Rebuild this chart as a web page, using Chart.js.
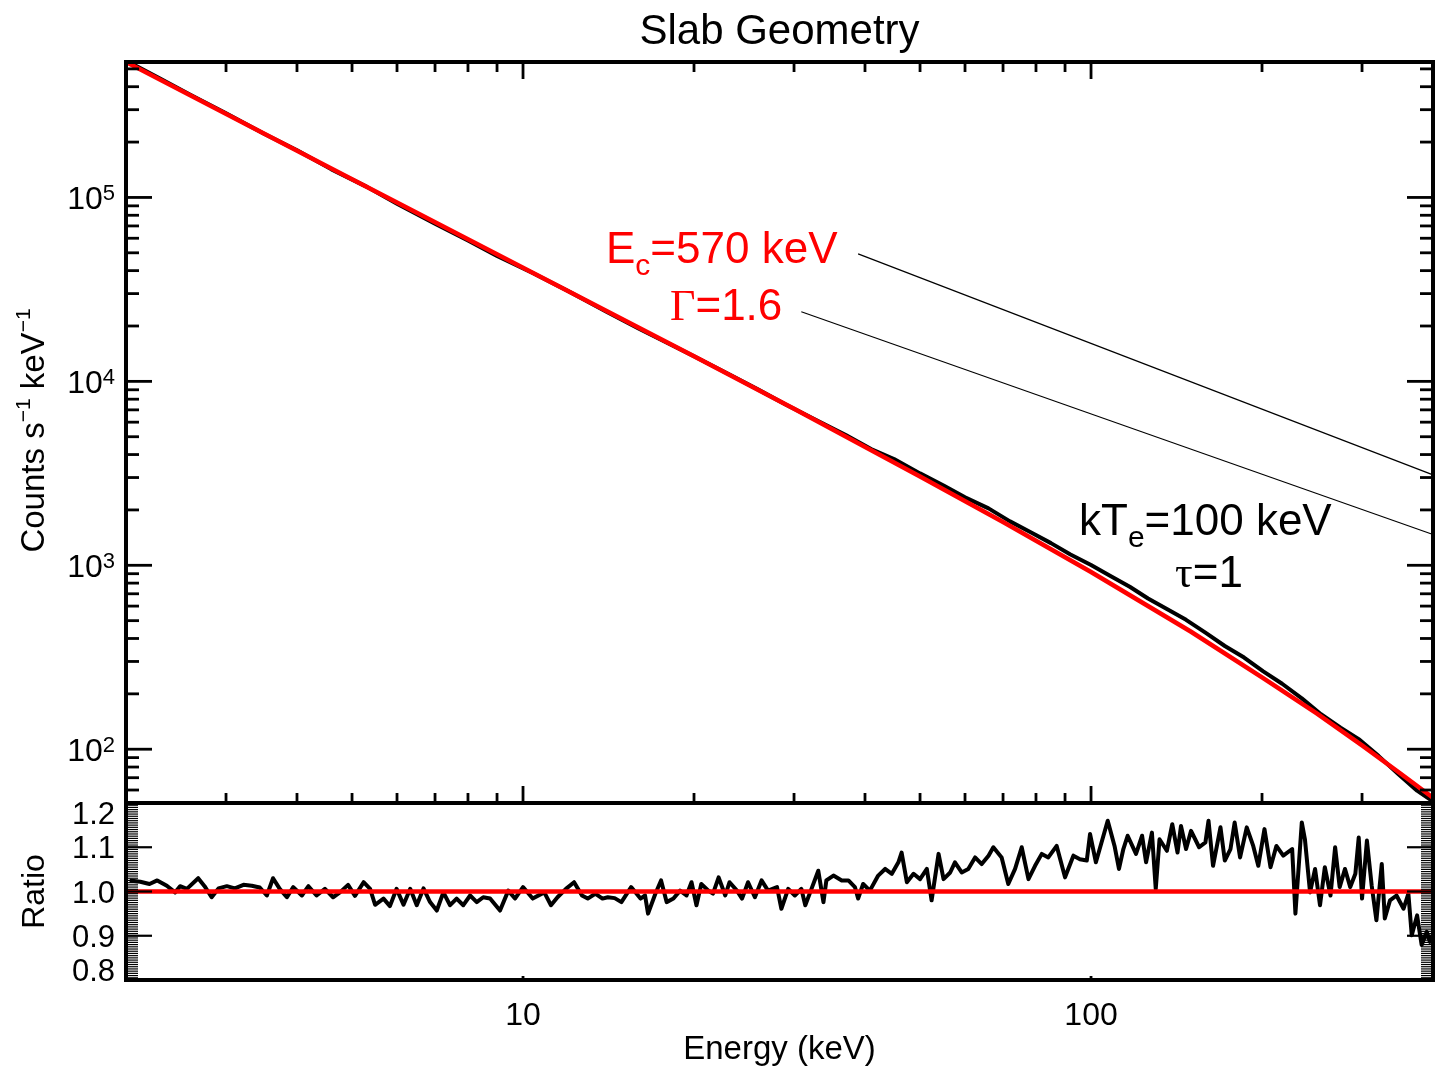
<!DOCTYPE html>
<html>
<head>
<meta charset="utf-8">
<title>Slab Geometry</title>
<script src="https://cdn.jsdelivr.net/npm/chart.js@4.4.1/dist/chart.umd.min.js"></script>
<style>
  html, body { margin: 0; padding: 0; background: #fff; }
  canvas { display: block; }
</style>
</head>
<body>
<canvas id="canvas" width="1435" height="1067"></canvas>
<script>
'use strict';

// model curve (red) in the top panel
const energyModel = [2, 5, 10, 20, 30, 50, 70, 100, 150, 200, 250, 300, 350, 400];
const countsModel = [545000, 125600, 41500, 13700, 7100, 3040, 1720, 920, 435, 246, 156, 105, 74, 54.5];

// simulated spectrum (black) in the top panel
const energyData = [2.0, 2.3, 2.6, 3.0, 3.5, 4.0, 4.6, 5.3, 6.0, 7.0, 8.0, 9.0, 10.4, 12, 14, 16, 18, 20, 23, 26,
  29, 33, 37, 41, 45, 50, 55, 60, 66, 72, 78, 85, 92, 100, 108, 117, 126, 136, 147, 159,
  172, 186, 201, 217, 235, 254, 275, 297, 321, 347, 375, 400];
const countsData = [555000, 442000, 361000, 287000, 222000, 180500, 142100, 114500, 92500, 71900, 58300, 48100, 38800, 31000, 23960, 19340, 16100, 13680, 10960, 8990,
  7490, 6110, 5110, 4290, 3780, 3160, 2715, 2342, 2040, 1733, 1521, 1320, 1144, 1003, 878, 764, 660, 578, 505, 430,
  364, 315, 265, 227, 189, 155, 131, 112.7, 91.7, 73.5, 59.5, 52];

// data / model ratio (bottom panel)
const energyRatio = [
  2.03, 2.12, 2.20, 2.27, 2.36, 2.44, 2.49, 2.56, 2.68, 2.75, 2.83, 2.91, 3.01, 3.11, 3.22, 3.33, 3.44, 3.54, 3.63, 3.73,
  3.84, 3.94, 4.08, 4.19, 4.33, 4.48, 4.63, 4.76, 4.92, 5.06, 5.24, 5.38, 5.49, 5.68, 5.83, 5.99, 6.16, 6.33, 6.50, 6.68,
  6.86, 7.05, 7.24, 7.44, 7.64, 7.85, 8.07, 8.29, 8.51, 8.75, 9.11, 9.42, 9.68, 10.0, 10.4, 10.9, 11.2, 11.5,
  11.9, 12.3, 12.7, 13.0, 13.4, 13.8, 14.1, 14.5, 14.9, 15.5, 16.1, 16.4, 16.6, 17.1, 17.5, 17.9, 18.4, 18.9, 19.4, 19.8,
  20.2, 20.6, 21.2, 21.6, 22.1, 22.7, 23.1, 23.8, 24.3, 24.9, 25.6, 26.3, 27.0, 28.0, 28.5, 29.3, 30.1, 30.9, 31.4, 32.2,
  33.1, 33.8, 34.2, 35.2, 36.4, 37.4, 38.4, 38.9, 39.7, 40.8, 42.2, 43.4, 44.6, 45.8, 46.4, 47.4, 48.7, 50.0, 51.4, 52.4,
  53.9, 55.0, 56.5, 57.6, 59.2, 60.8, 62.5, 64.2, 66.0, 67.3,
  69.6, 71.5, 73.5, 75.5, 77.6, 79.7, 81.9, 84.1, 87.0, 90.0, 93.1, 95.6, 98.3, 99.6, 102, 107, 110, 112, 114, 116,
  120, 123, 125, 128, 130, 132, 136, 139, 142, 144, 147, 150, 155, 159, 161, 164, 169, 172, 176, 179,
  183, 188, 193, 197, 202, 207, 212, 218, 226, 229, 235, 238, 243, 248, 253, 258, 264, 269, 274, 280,
  286, 292, 296, 300, 306, 312, 318, 325, 329, 336, 345, 355, 362, 367, 375, 382, 390, 395, 400
];
const ratioValues = [
  1.025, 1.022, 1.017, 1.025, 1.013, 0.998, 1.012, 1.006, 1.030, 1.012, 0.987, 1.007, 1.012, 1.007, 1.015, 1.013, 1.009, 0.991, 1.030, 1.006,
  0.987, 1.010, 0.991, 1.012, 0.991, 1.006, 0.987, 0.998, 1.015, 0.990, 1.021, 1.006, 0.970, 0.984, 0.967, 1.006, 0.970, 1.006, 0.969, 1.007,
  0.976, 0.957, 0.998, 0.969, 0.984, 0.969, 0.991, 0.976, 0.987, 0.984, 0.957, 1.002, 0.984, 1.010, 0.984, 0.998, 0.969, 0.987,
  1.006, 1.021, 0.991, 0.984, 0.995, 0.984, 0.987, 0.985, 0.976, 1.010, 0.984, 0.991, 0.950, 0.995, 1.025, 0.976, 0.984, 1.002, 0.991, 1.021,
  0.969, 1.017, 1.002, 0.995, 1.032, 0.991, 1.021, 1.002, 0.984, 1.021, 0.987, 1.025, 1.002, 1.010, 0.961, 1.006, 0.991, 1.006, 0.969, 1.006,
  1.047, 0.976, 1.025, 1.036, 1.025, 1.025, 1.010, 0.984, 1.017, 1.002, 1.036, 1.051, 1.040, 1.066, 1.088, 1.021, 1.040, 1.028, 1.051, 0.980,
  1.085, 1.028, 1.043, 1.066, 1.043, 1.051, 1.077, 1.062, 1.081, 1.100,
  1.077, 1.017, 1.051, 1.100, 1.028, 1.058, 1.085, 1.077, 1.103, 1.032, 1.081, 1.073, 1.070, 1.130, 1.066, 1.160, 1.103, 1.051, 1.096, 1.126,
  1.085, 1.126, 1.066, 1.133, 1.006, 1.118, 1.092, 1.152, 1.088, 1.148, 1.096, 1.137, 1.100, 1.111, 1.160, 1.058, 1.145, 1.070, 1.096, 1.156,
  1.077, 1.145, 1.103, 1.058, 1.141, 1.055, 1.103, 1.081, 1.096, 0.950, 1.156, 1.118, 0.998, 1.051, 0.969, 1.055, 0.991, 1.100, 1.010, 1.051,
  1.010, 1.040, 1.122, 0.984, 1.115, 1.013, 0.935, 1.062, 0.939, 0.980, 0.991, 0.961, 0.995, 0.901, 0.946, 0.879, 0.909, 0.886, 0.901
];

// unity line of the ratio panel
const energyUnity = [2, 400];
const ratioUnity = [1, 1];

// axes
const energyRange = [2, 400];
const countsRange = [51, 545000];
const ratioRange = [0.8, 1.2];
const energyTickValues = [10, 100];
const energyTickLabels = ['10', '100'];
const countsTickPowers = [2, 3, 4, 5];
const ratioTickValues = [1.2, 1.1, 1.0, 0.9, 0.8];
const ratioTickLabels = ['1.2', '1.1', '1.0', '0.9', '0.8'];

// leader lines of the annotation (energy, counts)
const leaderLines = [
  [[38.9, 49300], [400, 3100]],
  [[30.9, 23900], [400, 1470]]
];

const SANS = '"Liberation Sans", Arial, Helvetica, sans-serif';
const SERIF = '"Liberation Serif", "Times New Roman", serif';

function toPoints(xs, ys) {
  const pts = [];
  for (let i = 0; i < xs.length; i++) {
    pts.push({ x: xs[i], y: ys[i] });
  }
  return pts;
}

function drawParts(ctx, x, y, parts, align) {
  let total = 0;
  parts.forEach(function(p) {
    ctx.font = p.size + 'px ' + (p.family || SANS);
    p.w = ctx.measureText(p.text).width;
    total += p.w + (p.gap || 0);
  });
  let cx = x;
  if (align === 'right') cx = x - total;
  if (align === 'center') cx = x - total / 2;
  parts.forEach(function(p) {
    ctx.font = p.size + 'px ' + (p.family || SANS);
    ctx.fillText(p.text, cx, y + (p.dy || 0));
    cx += p.w + (p.gap || 0);
  });
}

function seg(ctx, x1, y1, x2, y2) {
  ctx.beginPath();
  ctx.moveTo(x1, y1);
  ctx.lineTo(x2, y2);
  ctx.stroke();
}

const framePlugin = {
  id: 'frame',
  afterDatasetsDraw(chart) {
    const ctx = chart.ctx;
    const xs = chart.scales.x;
    const ys = chart.scales.y;
    const yr = chart.scales.yRatio;
    const left = chart.chartArea.left;
    const right = chart.chartArea.right;
    const mid = (left + right) / 2;

    ctx.save();
    ctx.strokeStyle = '#000';
    ctx.fillStyle = '#000';
    ctx.lineCap = 'butt';

    // energy ticks
    ctx.lineWidth = 2.8;
    for (let d = 1; d <= 100; d *= 10) {
      for (let m = 1; m <= 9; m++) {
        const e = m * d;
        if (e < energyRange[0] || e > energyRange[1]) continue;
        const px = xs.getPixelForValue(e);
        const len = m === 1 ? 17 : 10;
        seg(ctx, px, ys.top, px, ys.top + len);
        seg(ctx, px, ys.bottom, px, ys.bottom - len);
        if (m === 1) seg(ctx, px, yr.bottom, px, yr.bottom - 4);
      }
    }

    // counts ticks
    for (let p = 1; p <= 5; p++) {
      for (let m = 1; m <= 9; m++) {
        const c = m * Math.pow(10, p);
        if (c < countsRange[0] || c > countsRange[1]) continue;
        const py = ys.getPixelForValue(c);
        const len = m === 1 ? 26 : 13;
        seg(ctx, left, py, left + len, py);
        seg(ctx, right, py, right - len, py);
      }
    }

    // ratio ticks (dense minors)
    ctx.lineWidth = 1.2;
    for (let i = 1; i < 80; i++) {
      const v = ratioRange[0] + i * 0.005;
      const py = yr.getPixelForValue(v);
      seg(ctx, left, py, left + 12, py);
      seg(ctx, right, py, right - 12, py);
    }
    ctx.lineWidth = 2.2;
    [0.9, 1.0, 1.1].forEach(function(v) {
      const py = yr.getPixelForValue(v);
      seg(ctx, left, py, left + 26, py);
      seg(ctx, right, py, right - 26, py);
    });

    // panel frames
    ctx.lineWidth = 4;
    ctx.strokeRect(left, ys.top, right - left, ys.bottom - ys.top);
    ctx.strokeRect(left, yr.top, right - left, yr.bottom - yr.top);

    // leader lines
    ctx.lineWidth = 1.2;
    leaderLines.forEach(function(l) {
      seg(ctx,
        xs.getPixelForValue(l[0][0]), ys.getPixelForValue(l[0][1]),
        xs.getPixelForValue(l[1][0]), ys.getPixelForValue(l[1][1]));
    });

    ctx.textBaseline = 'alphabetic';
    ctx.textAlign = 'left';

    // counts tick labels
    countsTickPowers.forEach(function(p) {
      const py = ys.getPixelForValue(Math.pow(10, p));
      drawParts(ctx, 115, py + 12, [
        { text: '10', size: 32 },
        { text: String(p), size: 22, dy: -9 }
      ], 'right');
    });

    // ratio tick labels
    ratioTickValues.forEach(function(v, i) {
      let py = yr.getPixelForValue(v);
      py = Math.min(Math.max(py, yr.top + 10), yr.bottom - 10);
      drawParts(ctx, 115, py + 11, [{ text: ratioTickLabels[i], size: 31 }], 'right');
    });

    // energy tick labels
    energyTickValues.forEach(function(v, i) {
      drawParts(ctx, xs.getPixelForValue(v), yr.bottom + 45, [{ text: energyTickLabels[i], size: 32 }], 'center');
    });

    // axis titles
    drawParts(ctx, mid, yr.bottom + 79, [{ text: 'Energy (keV)', size: 33 }], 'center');
    drawParts(ctx, mid, 44, [{ text: 'Slab Geometry', size: 42 }], 'center');

    ctx.save();
    ctx.translate(44, (ys.top + ys.bottom) / 2 - 2);
    ctx.rotate(-Math.PI / 2);
    drawParts(ctx, 0, 0, [
      { text: 'Counts s', size: 33 },
      { text: '\u22121', size: 21, dy: -14 },
      { text: ' keV', size: 33 },
      { text: '\u22121', size: 21, dy: -14 }
    ], 'center');
    ctx.restore();

    ctx.save();
    ctx.translate(44, (yr.top + yr.bottom) / 2);
    ctx.rotate(-Math.PI / 2);
    drawParts(ctx, 0, 0, [{ text: 'Ratio', size: 32 }], 'center');
    ctx.restore();

    // annotations
    ctx.fillStyle = '#ff0000';
    drawParts(ctx, 606, 263, [
      { text: 'E', size: 44 },
      { text: 'c', size: 30, dy: 12 },
      { text: '=570 keV', size: 44 }
    ], 'left');
    drawParts(ctx, 670, 320, [
      { text: '\u0393', size: 44, family: SERIF },
      { text: '=1.6', size: 44 }
    ], 'left');

    ctx.fillStyle = '#000';
    drawParts(ctx, 1079, 535, [
      { text: 'kT', size: 44 },
      { text: 'e', size: 30, dy: 12 },
      { text: '=100 keV', size: 44 }
    ], 'left');
    drawParts(ctx, 1175, 587, [
      { text: '\u03c4', size: 44, family: SERIF },
      { text: '=1', size: 44 }
    ], 'left');

    ctx.restore();
  }
};

const ctx = document.getElementById('canvas').getContext('2d');

new Chart(ctx, {
  type: 'line',
  data: {
    datasets: [
      {
        label: 'Model',
        data: toPoints(energyModel, countsModel),
        yAxisID: 'y',
        borderColor: '#ff0000',
        borderWidth: 4.5,
        pointRadius: 0,
        tension: 0
      },
      {
        label: 'Spectrum',
        data: toPoints(energyData, countsData),
        yAxisID: 'y',
        borderColor: '#000000',
        borderWidth: 4,
        borderJoinStyle: 'round',
        pointRadius: 0,
        tension: 0
      },
      {
        label: 'Unity',
        data: toPoints(energyUnity, ratioUnity),
        yAxisID: 'yRatio',
        borderColor: '#ff0000',
        borderWidth: 4.5,
        pointRadius: 0
      },
      {
        label: 'Ratio',
        data: toPoints(energyRatio, ratioValues),
        yAxisID: 'yRatio',
        borderColor: '#000000',
        borderWidth: 4,
        borderJoinStyle: 'round',
        pointRadius: 0,
        tension: 0
      }
    ]
  },
  options: {
    responsive: false,
    animation: false,
    devicePixelRatio: 1,
    layout: {
      padding: { left: 126, right: 2, top: 62, bottom: 87 }
    },
    plugins: {
      legend: { display: false },
      title: { display: false },
      tooltip: { enabled: false }
    },
    scales: {
      x: {
        type: 'logarithmic',
        min: energyRange[0],
        max: energyRange[1],
        display: false
      },
      yRatio: {
        type: 'linear',
        position: 'left',
        stack: 'panels',
        stackWeight: 177,
        min: ratioRange[0],
        max: ratioRange[1],
        display: false
      },
      y: {
        type: 'logarithmic',
        position: 'left',
        stack: 'panels',
        stackWeight: 741,
        min: countsRange[0],
        max: countsRange[1],
        display: false
      }
    }
  },
  plugins: [framePlugin]
});
</script>
</body>
</html>
